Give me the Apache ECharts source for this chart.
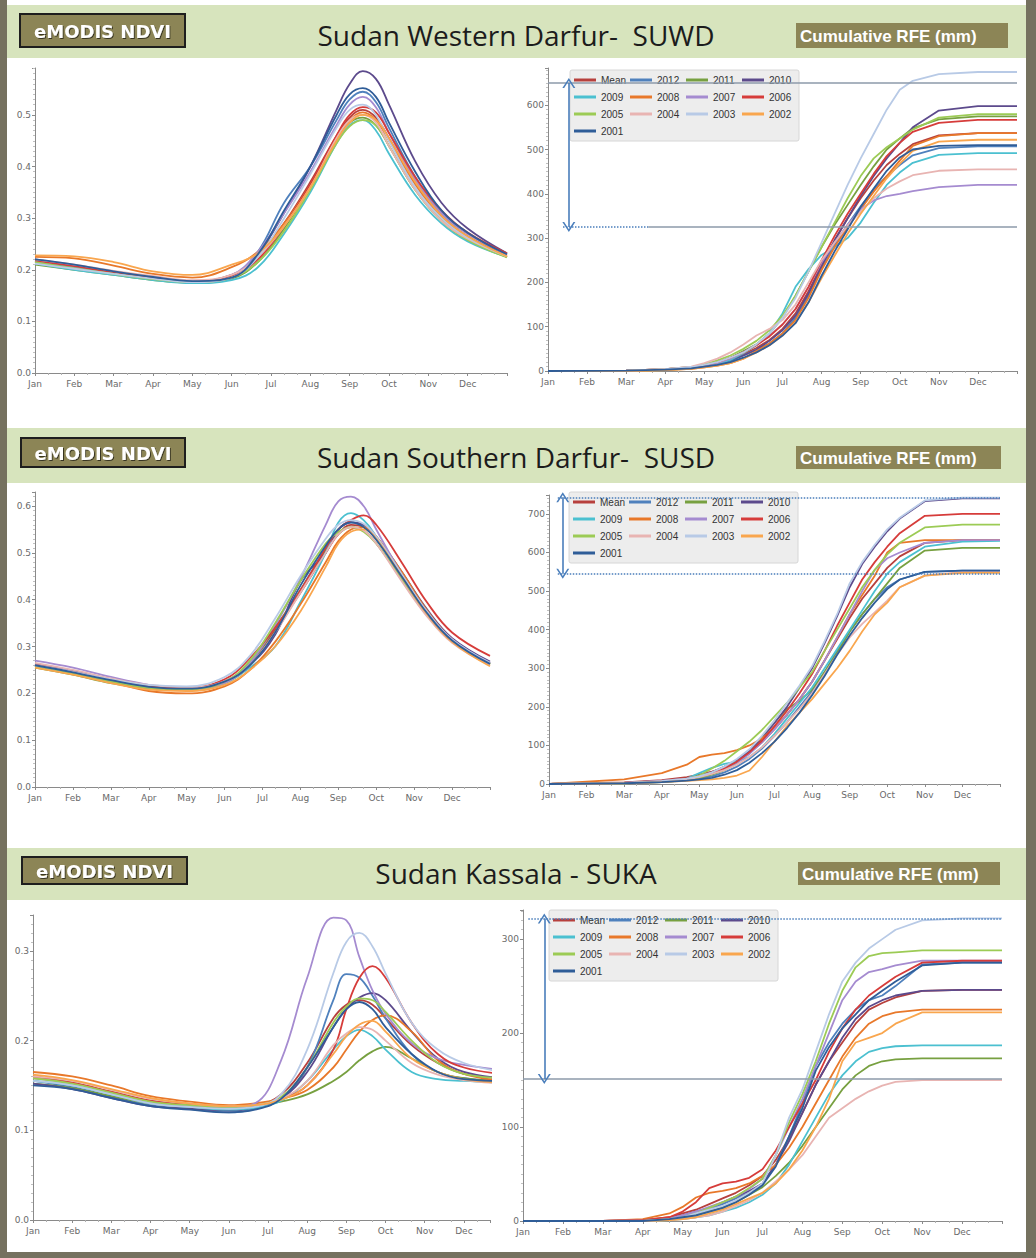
<!DOCTYPE html>
<html><head><meta charset="utf-8">
<script src="https://cdn.jsdelivr.net/npm/echarts@6/dist/echarts.min.js"></script>
<style>html,body{margin:0;padding:0;background:#75715f;overflow:hidden}#c{width:1036px;height:1258px}</style>
</head><body><div id="c"></div>
<script>
// ---------- labels ----------
const MONTHS = ['Jan','Feb','Mar','Apr','May','Jun','Jul','Aug','Sep','Oct','Nov','Dec'];
const SERIES_NAMES = ['Mean','2012','2011','2010','2009','2008','2007','2006','2005','2004','2003','2002','2001'];
const TITLES = ['Sudan Western Darfur-  SUWD','Sudan Southern Darfur-  SUSD','Sudan Kassala - SUKA'];
const BADGE_LEFT = 'eMODIS NDVI';
const BADGE_RIGHT = 'Cumulative RFE (mm)';

// ---------- x positions (dekad of year, 0 = 1 Jan, 36 = end of year) ----------
const NDVI_X = [0,3,6,9,12,15,17,19,21,23,24,25,26,27,29,31,33,36];
const RFE_X  = [0,6,9,11,12,13,14,15,16,17,18,19,20,21,22,23,24,25,26,27,28,30,33,36];

// ---------- NDVI, Western Darfur (rows follow SERIES_NAMES) ----------
const NDVI_SUWD = [
 [0.215,0.205,0.195,0.185,0.178,0.190,0.225,0.290,0.370,0.460,0.495,0.510,0.495,0.455,0.370,0.305,0.265,0.228],
 [0.215,0.205,0.193,0.183,0.176,0.185,0.235,0.330,0.400,0.490,0.530,0.545,0.525,0.475,0.380,0.310,0.270,0.230],
 [0.210,0.200,0.190,0.180,0.175,0.183,0.215,0.280,0.360,0.450,0.485,0.495,0.480,0.440,0.355,0.295,0.258,0.225],
 [0.220,0.208,0.196,0.185,0.178,0.185,0.230,0.310,0.400,0.510,0.560,0.585,0.570,0.520,0.410,0.330,0.280,0.232],
 [0.212,0.200,0.190,0.180,0.174,0.180,0.205,0.270,0.350,0.445,0.480,0.490,0.470,0.425,0.345,0.290,0.255,0.225],
 [0.225,0.222,0.208,0.192,0.185,0.205,0.235,0.290,0.365,0.455,0.490,0.505,0.490,0.450,0.365,0.300,0.262,0.225],
 [0.218,0.207,0.195,0.185,0.178,0.190,0.235,0.310,0.390,0.480,0.520,0.535,0.515,0.465,0.375,0.310,0.270,0.230],
 [0.218,0.207,0.195,0.185,0.178,0.188,0.220,0.285,0.365,0.460,0.500,0.515,0.505,0.465,0.380,0.315,0.272,0.232],
 [0.215,0.203,0.192,0.182,0.176,0.185,0.215,0.275,0.355,0.445,0.478,0.490,0.480,0.440,0.355,0.295,0.258,0.224],
 [0.220,0.210,0.198,0.188,0.180,0.190,0.225,0.285,0.360,0.455,0.490,0.500,0.485,0.440,0.355,0.295,0.260,0.226],
 [0.212,0.202,0.192,0.183,0.176,0.185,0.225,0.300,0.385,0.475,0.510,0.520,0.500,0.450,0.360,0.300,0.262,0.226],
 [0.228,0.226,0.215,0.197,0.190,0.210,0.232,0.285,0.360,0.450,0.485,0.500,0.490,0.455,0.370,0.305,0.265,0.226],
 [0.220,0.210,0.197,0.186,0.178,0.185,0.230,0.315,0.400,0.500,0.540,0.552,0.535,0.485,0.390,0.315,0.272,0.230]
];
// ---------- NDVI, Southern Darfur ----------
const NDVI_SUSD = [
 [0.260,0.245,0.228,0.215,0.210,0.225,0.265,0.335,0.415,0.500,0.540,0.560,0.555,0.530,0.455,0.375,0.315,0.265],
 [0.262,0.246,0.228,0.214,0.208,0.222,0.260,0.330,0.420,0.510,0.550,0.565,0.558,0.530,0.455,0.375,0.315,0.265],
 [0.255,0.240,0.222,0.210,0.208,0.222,0.265,0.340,0.420,0.505,0.540,0.555,0.548,0.520,0.445,0.370,0.310,0.262],
 [0.262,0.248,0.230,0.215,0.210,0.225,0.260,0.325,0.440,0.500,0.550,0.565,0.560,0.535,0.460,0.380,0.318,0.268],
 [0.258,0.243,0.225,0.212,0.208,0.222,0.255,0.300,0.395,0.500,0.565,0.585,0.570,0.535,0.455,0.372,0.312,0.262],
 [0.260,0.244,0.225,0.205,0.200,0.215,0.250,0.310,0.390,0.480,0.525,0.550,0.555,0.535,0.460,0.378,0.315,0.262],
 [0.270,0.255,0.235,0.218,0.208,0.222,0.265,0.345,0.445,0.560,0.610,0.620,0.600,0.550,0.455,0.375,0.315,0.265],
 [0.262,0.246,0.228,0.215,0.212,0.230,0.275,0.340,0.420,0.510,0.550,0.570,0.580,0.560,0.480,0.395,0.330,0.280],
 [0.258,0.243,0.225,0.212,0.208,0.225,0.270,0.350,0.440,0.520,0.545,0.555,0.545,0.520,0.445,0.368,0.310,0.262],
 [0.265,0.250,0.232,0.218,0.213,0.225,0.260,0.330,0.415,0.500,0.540,0.555,0.548,0.520,0.440,0.365,0.308,0.260],
 [0.260,0.246,0.230,0.218,0.215,0.235,0.280,0.360,0.450,0.530,0.560,0.570,0.562,0.535,0.455,0.375,0.315,0.265],
 [0.255,0.240,0.222,0.208,0.205,0.218,0.250,0.300,0.375,0.470,0.520,0.545,0.550,0.530,0.450,0.370,0.310,0.258],
 [0.260,0.245,0.228,0.214,0.210,0.225,0.260,0.330,0.430,0.515,0.550,0.565,0.555,0.528,0.450,0.372,0.313,0.263]
];
// ---------- NDVI, Kassala ----------
const NDVI_SUKA = [
 [0.160,0.153,0.143,0.133,0.128,0.125,0.127,0.140,0.175,0.225,0.240,0.245,0.240,0.225,0.195,0.175,0.163,0.158],
 [0.155,0.148,0.138,0.128,0.124,0.120,0.124,0.135,0.170,0.245,0.274,0.270,0.250,0.225,0.185,0.165,0.158,0.155],
 [0.152,0.147,0.138,0.130,0.127,0.125,0.127,0.132,0.140,0.155,0.165,0.178,0.188,0.193,0.180,0.165,0.158,0.155],
 [0.152,0.146,0.136,0.127,0.124,0.122,0.125,0.135,0.165,0.215,0.235,0.248,0.253,0.245,0.210,0.180,0.165,0.158],
 [0.155,0.150,0.140,0.130,0.126,0.123,0.125,0.133,0.155,0.190,0.205,0.212,0.205,0.190,0.165,0.157,0.155,0.153],
 [0.165,0.160,0.150,0.138,0.132,0.128,0.130,0.135,0.145,0.170,0.190,0.210,0.223,0.228,0.210,0.178,0.163,0.155],
 [0.158,0.152,0.142,0.132,0.128,0.126,0.130,0.178,0.270,0.337,0.334,0.293,0.256,0.230,0.197,0.180,0.173,0.167],
 [0.160,0.153,0.143,0.133,0.129,0.127,0.128,0.135,0.150,0.190,0.235,0.270,0.283,0.270,0.220,0.185,0.170,0.163],
 [0.158,0.152,0.142,0.132,0.128,0.126,0.128,0.137,0.170,0.220,0.238,0.247,0.245,0.232,0.200,0.175,0.163,0.158],
 [0.160,0.155,0.145,0.135,0.130,0.127,0.128,0.135,0.155,0.195,0.208,0.215,0.212,0.200,0.175,0.162,0.156,0.152],
 [0.155,0.150,0.140,0.130,0.126,0.124,0.126,0.140,0.190,0.275,0.310,0.320,0.305,0.275,0.220,0.190,0.175,0.165],
 [0.162,0.156,0.146,0.136,0.130,0.127,0.128,0.134,0.150,0.185,0.205,0.218,0.222,0.210,0.180,0.165,0.157,0.153],
 [0.150,0.146,0.136,0.127,0.123,0.120,0.123,0.135,0.170,0.215,0.235,0.243,0.235,0.215,0.185,0.165,0.157,0.155]
];

// ---------- Cumulative RFE (mm), Western Darfur ----------
const RFE_SUWD = [
 [0,1,4,8,12,18,25,38,52,70,95,130,180,240,295,345,390,430,465,490,512,532,537,537],
 [0,1,3,6,10,15,22,35,48,62,85,120,170,230,285,330,372,410,440,465,487,503,507,507],
 [0,0,3,8,14,20,30,45,60,85,120,170,225,280,330,375,420,462,500,525,548,568,575,575],
 [0,1,4,8,12,18,25,35,48,68,92,125,175,235,295,345,395,440,480,515,550,588,598,598],
 [0,0,2,6,10,15,25,40,58,85,130,190,230,262,280,300,335,380,420,448,470,488,492,492],
 [0,0,2,5,8,12,18,28,45,62,85,115,165,228,280,325,365,405,440,475,508,530,537,537],
 [0,1,3,7,12,18,28,42,60,80,105,140,190,245,290,330,365,385,395,400,406,415,420,420],
 [0,1,4,9,14,20,30,42,58,78,105,140,190,250,305,355,400,445,485,515,540,560,567,567],
 [0,1,4,9,15,24,35,50,68,92,125,170,225,280,335,390,440,480,505,525,545,572,580,580],
 [0,1,4,10,18,28,42,60,80,95,115,150,200,250,290,328,360,390,412,428,442,452,455,455],
 [0,1,4,9,14,20,30,42,60,85,120,165,225,290,355,420,480,535,590,635,655,670,675,675],
 [0,0,2,5,8,12,18,28,42,58,80,110,155,210,260,310,355,395,435,468,497,518,522,522],
 [0,1,3,6,10,14,20,30,42,58,80,108,155,215,270,320,370,412,452,482,500,508,510,510]
];
// ---------- Cumulative RFE (mm), Southern Darfur ----------
const RFE_SUSD = [
 [0,4,10,18,24,32,42,58,80,108,142,180,220,265,320,375,430,480,520,560,590,625,632,632],
 [0,2,5,10,14,20,30,45,65,92,125,160,200,240,290,345,395,440,480,510,530,550,553,553],
 [0,2,5,10,16,24,36,55,85,120,160,195,215,245,290,340,395,440,480,520,560,605,612,612],
 [0,3,8,14,20,30,45,62,85,118,158,200,250,300,365,435,510,570,615,655,688,733,740,740],
 [0,2,6,14,28,42,52,58,70,95,130,170,210,250,300,350,400,450,500,545,575,615,628,630],
 [0,12,28,50,70,76,80,88,100,118,145,180,220,265,320,380,440,490,540,600,625,632,632,632],
 [0,3,8,14,20,28,40,55,78,108,142,180,220,265,320,380,440,500,555,585,600,625,632,632],
 [0,3,8,14,20,28,40,58,82,112,150,190,235,285,345,410,470,530,575,615,650,695,700,700],
 [0,2,6,12,22,40,60,85,110,140,175,210,250,290,345,400,455,510,555,595,625,665,672,672],
 [0,2,6,12,18,26,36,50,70,95,125,160,195,235,285,335,380,415,445,475,510,540,550,550],
 [0,3,8,14,20,30,45,65,90,125,165,210,255,305,370,440,520,575,620,660,690,735,742,742],
 [0,2,5,8,10,12,16,22,35,70,110,150,185,220,260,300,345,395,440,470,510,540,547,547],
 [0,2,5,9,12,16,24,36,55,80,110,145,185,230,280,335,385,430,470,505,530,550,553,553]
];
// ---------- Cumulative RFE (mm), Kassala ----------
const RFE_SUKA = [
 [0,0,1,4,8,12,18,24,30,38,48,65,88,115,145,170,190,210,225,232,238,245,246,246],
 [0,0,0,2,4,8,12,18,24,30,40,60,90,125,165,190,210,225,235,240,250,273,275,275],
 [0,0,0,1,3,6,10,14,20,28,36,48,62,80,100,120,140,155,165,170,172,173,173,173],
 [0,0,1,3,6,10,14,20,26,32,40,60,85,115,145,170,195,215,228,235,240,245,246,246],
 [0,0,0,1,2,4,6,10,14,20,28,40,60,85,110,135,155,170,180,184,186,187,187,187],
 [0,0,2,8,15,25,30,32,35,40,48,60,78,100,125,150,175,195,210,218,222,225,225,225],
 [0,0,1,3,6,10,15,20,26,34,45,70,100,130,165,200,235,255,265,268,272,277,277,277],
 [0,0,1,4,10,20,35,40,42,46,55,75,100,125,150,180,205,225,240,250,260,275,277,277],
 [0,0,0,2,4,8,14,20,26,35,45,70,105,135,170,210,245,270,282,285,286,288,288,288],
 [0,0,0,1,2,4,6,10,16,22,30,42,55,70,90,110,120,130,138,144,148,150,150,150],
 [0,0,0,2,4,8,12,16,22,30,40,70,110,140,180,220,255,275,290,300,310,320,322,322],
 [0,0,0,1,2,4,8,12,18,24,30,40,55,75,100,130,170,190,195,200,210,222,222,222],
 [0,0,0,2,4,6,10,14,20,28,38,58,90,120,160,185,205,220,235,245,255,272,275,275]
];
// ---------- reference levels (upper, lower) in mm ----------
const REF_SUWD = [650, 325];
const REF_SUSD = [743, 545];
const REF_SUKA = [322, 151];

// ---------- styles / layout ----------
const SERIES_COLORS = ['#B7403D','#4F81BD','#77A040','#5C4A8C','#4BC0D0','#E8782A','#A58BD0','#D63C3A','#9CCB55','#E8B4B2','#B8CAE6','#F9A64E','#2F5D98'];
const GRAY_LINE = '#8d9aaa', BLUE = '#4a7ebb';
const CHEV = 'path://M0,10L5,0L10,10L8.6,10L5,2.8L1.4,10Z';

const CHARTS = [
 {kind:'ndvi', data:NDVI_SUWD, grid:{left:35,top:68,width:472,height:305}, yMax:0.591, xMax:36},
 {kind:'rfe',  data:RFE_SUWD, ref:REF_SUWD, grid:{left:548,top:68,width:469,height:303}, yMax:684, xMax:36,
  legend:{left:570,top:70}, arrowX:1.6,
  segs:[{v:0,from:0,to:36,dotted:false},{v:1,from:1.15,to:7.7,dotted:true},{v:1,from:7.7,to:36,dotted:false}]},
 {kind:'ndvi', data:NDVI_SUSD, grid:{left:35,top:492,width:455,height:295}, yMax:0.63, xMax:36},
 {kind:'rfe',  data:RFE_SUSD, ref:REF_SUSD, grid:{left:549,top:495,width:451,height:289}, yMax:749, xMax:36,
  legend:{left:569,top:492}, arrowX:1.1,
  segs:[{v:0,from:0.7,to:36,dotted:true},{v:1,from:0.7,to:36,dotted:true}]},
 {kind:'ndvi', data:NDVI_SUKA, grid:{left:33,top:915,width:457,height:305}, yMax:0.34, xMax:35},
 {kind:'rfe',  data:RFE_SUKA, ref:REF_SUKA, grid:{left:523,top:910,width:479,height:311}, yMax:331, xMax:36,
  legend:{left:549,top:910}, arrowX:1.6,
  segs:[{v:0,from:0.4,to:36,dotted:true},{v:1,from:0,to:36,dotted:false}]}
];

const grids=[], xAxes=[], yAxes=[], series=[], legends=[];
const labelStyle = {fontSize:9, color:'#6a6a6a', fontFamily:'DejaVu Sans'};
CHARTS.forEach((c,k)=>{
  grids.push(Object.assign({containLabel:false}, c.grid));
  xAxes.push({gridIndex:k, type:'value', min:0, max:c.xMax, interval:3,
    axisLine:{lineStyle:{color:'#8a8a8a'}}, axisTick:{length:3,lineStyle:{color:'#8a8a8a'}},
    minorTick:{show:true,splitNumber:3,length:2,lineStyle:{color:'#b0b0b0'}},
    splitLine:{show:false},
    axisLabel:Object.assign({margin:6, formatter:v=>(v%3===0&&v<36)?MONTHS[v/3]:''}, labelStyle)});
  const ndvi = c.kind==='ndvi';
  yAxes.push({gridIndex:k, type:'value', min:0, max:c.yMax, interval: ndvi?0.1:100,
    axisLine:{show:true,lineStyle:{color:'#8a8a8a'}}, axisTick:{show:true,length:3,lineStyle:{color:'#8a8a8a'}},
    minorTick:{show:true,splitNumber:10,length:2,lineStyle:{color:'#c0c0c0'}},
    splitLine:{show:false},
    axisLabel:Object.assign({margin:4, showMaxLabel:false, formatter:v=> ndvi? v.toFixed(1) : String(Math.round(v))}, labelStyle)});
  const xs = ndvi ? NDVI_X : RFE_X;
  c.data.forEach((row,j)=>{
    const s = {type:'line', name:SERIES_NAMES[j], xAxisIndex:k, yAxisIndex:k,
      data: xs.map((x,i)=>[x,row[i]]), smooth: ndvi?0.4:false, symbol:'none',
      lineStyle:{width:1.8,color:SERIES_COLORS[j]}, itemStyle:{color:SERIES_COLORS[j]},
      emphasis:{disabled:true}, silent:true};
    series.push(s);
  });
  if (!ndvi) {
    const md = c.segs.map(sg=>[
      {coord:[sg.from,c.ref[sg.v]], symbol:'none',
       lineStyle:{color: sg.dotted?BLUE:GRAY_LINE, type: sg.dotted?'dotted':'solid', width:1.5}},
      {coord:[sg.to,c.ref[sg.v]], symbol:'none'}]);
    md.push([
      {coord:[c.arrowX,c.ref[0]], symbol:CHEV, symbolSize:[13,10], lineStyle:{color:BLUE,type:'solid',width:1.6}},
      {coord:[c.arrowX,c.ref[1]], symbol:CHEV, symbolSize:[13,10]}]);
    series.push({type:'line', name:'ref', xAxisIndex:k, yAxisIndex:k, data:[], silent:true,
      markLine:{silent:true, animation:false, symbol:'none', label:{show:false}, emphasis:{disabled:true}, data:md}});
    legends.push({data:SERIES_NAMES, left:c.legend.left, top:c.legend.top, width:228, orient:'horizontal',
      icon:'rect', itemWidth:22, itemHeight:3, itemGap:3, padding:[3,4], selectedMode:false,
      backgroundColor:'#ededed', borderColor:'#d6d6d6', borderWidth:1, borderRadius:2,
      textStyle:{fontSize:10, color:'#333', fontFamily:'Liberation Sans', width:26, lineHeight:14}});
  }
});

// ---------- decoration ----------
const HEADER = '#d7e4bd', BADGE = '#8c8556';
const headerRows = [{y:5,h:53},{y:428,h:55},{y:848,h:52}];
const titleY = [35,457,873];
const badgeL = [{x:20,y:14,w:165,h:33},{x:21,y:438,w:164,h:29},{x:22,y:857,w:165,h:27}];
const badgeR = [{x:796,y:23,w:212,h:25},{x:796,y:446,w:205,h:23},{x:798,y:862,w:202,h:23}];
const graphic = [{type:'rect', shape:{x:7,y:0,width:1019,height:1252}, style:{fill:'#ffffff'}, z:-10}];
headerRows.forEach((h,i)=>{
  graphic.push({type:'rect', shape:{x:7,y:h.y,width:1019,height:h.h}, style:{fill:HEADER}, z:-9});
  graphic.push({type:'text', x:516, y:titleY[i], style:{text:TITLES[i], fill:'#1c1c1c', font:'28px "Open Sans"', align:'center', verticalAlign:'middle'}});
  const b=badgeL[i];
  graphic.push({type:'rect', shape:{x:b.x,y:b.y,width:b.w,height:b.h}, style:{fill:BADGE, stroke:'#1e1e1e', lineWidth:2}});
  graphic.push({type:'text', x:b.x+b.w/2, y:b.y+b.h/2+1, style:{text:BADGE_LEFT, fill:'#ffffff', font:'bold 18px "DejaVu Sans"', align:'center', verticalAlign:'middle', textShadowColor:'rgba(0,0,0,0.6)', textShadowOffsetX:1, textShadowOffsetY:1, textShadowBlur:1}});
  const r=badgeR[i];
  graphic.push({type:'rect', shape:{x:r.x,y:r.y,width:r.w,height:r.h}, style:{fill:BADGE}});
  graphic.push({type:'text', x:r.x+4, y:r.y+r.h/2+1, style:{text:BADGE_RIGHT, fill:'#ffffff', font:'bold 17px "Liberation Sans"', align:'left', verticalAlign:'middle'}});
});

const chart = echarts.init(document.getElementById('c'), null, {renderer:'svg', width:1036, height:1258});
chart.setOption({animation:false, backgroundColor:'transparent', grid:grids, xAxis:xAxes, yAxis:yAxes,
  legend:legends, series:series, graphic:graphic, tooltip:{show:false}});
</script></body></html>
